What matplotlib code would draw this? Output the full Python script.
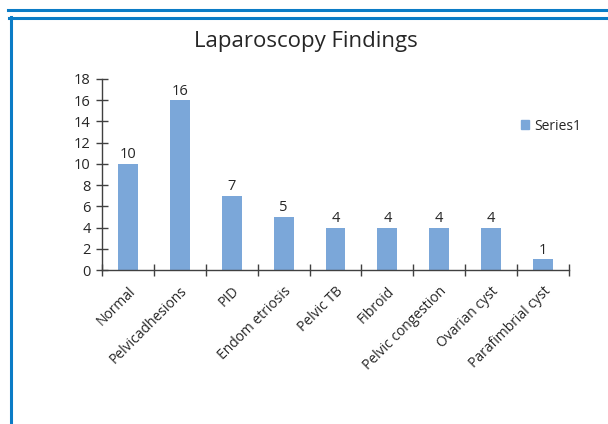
import matplotlib
matplotlib.use("Agg")
import matplotlib.pyplot as plt
from matplotlib.lines import Line2D
from matplotlib.patches import Patch
import numpy as np

categories = ["Normal", "Pelvicadhesions", "PID", "Endom etriosis", "Pelvic TB",
              "Fibroid", "Pelvic congestion", "Ovarian cyst", "Parafimbrial cyst"]
values = [10, 16, 7, 5, 4, 4, 4, 4, 1]
yticks = [0, 2, 4, 6, 8, 10, 12, 14, 16, 18]
series_name = "Series1"
title = "Laparoscopy Findings"

bar_color = "#7BA7D9"
frame_color = "#0B7CC6"
axis_color = "#404040"
text_color = "#262626"

plt.rcParams['font.family'] = ['Open Sans', 'DejaVu Sans']

fig = plt.figure(figsize=(6.08, 4.24), dpi=100)
W, H = 608, 424

# decorative frame lines
fig.add_artist(Line2D([8 / W, 1], [1 - 10 / H, 1 - 10 / H], transform=fig.transFigure,
                      color=frame_color, lw=2.2))
fig.add_artist(Line2D([9 / W, 1], [1 - 18 / H, 1 - 18 / H], transform=fig.transFigure,
                      color=frame_color, lw=2.2))
fig.add_artist(Line2D([11 / W, 11 / W], [1 - 17 / H, 0], transform=fig.transFigure,
                      color=frame_color, lw=2.2))

ax = fig.add_axes([102 / W, 1 - 270 / H, (569 - 102) / W, (270 - 79) / H])
n = len(categories)
x = np.arange(n) + 0.5
bars = ax.bar(x, values, width=0.385, color=bar_color, label=series_name, zorder=2)
ax.set_xlim(0, n)
ax.set_ylim(0, 18)
ax.set_yticks(yticks)
ax.set_yticklabels([str(t) for t in yticks], fontsize=10.5, color=text_color)

ax.set_xticks(np.arange(n + 1))
ax.set_xticklabels([])
ax.set_xticks(x, minor=True)
ax.set_xticklabels(categories, minor=True, rotation=45, ha='right',
                   rotation_mode='anchor', fontsize=10, color=text_color)
ax.tick_params(axis='x', which='minor', length=0, pad=10)
ax.tick_params(axis='x', which='major', direction='inout', length=8, color=axis_color, width=1)
ax.tick_params(axis='y', direction='inout', length=8, color=axis_color, width=1, pad=4)

for s in ['top', 'right']:
    ax.spines[s].set_visible(False)
for s in ['left', 'bottom']:
    ax.spines[s].set_color(axis_color)
    ax.spines[s].set_linewidth(1)

for xi, v in zip(x, values):
    ax.text(xi, v + 0.15, str(v), ha='center', va='bottom', fontsize=10.5, color=text_color)

fig.text(306 / W, 1 - 41 / H, title, ha='center', va='center', fontsize=16, color=text_color)

fig.legend(handles=[Patch(color=bar_color, label=series_name)], loc='center left',
           bbox_to_anchor=(508 / W, 1 - 126 / H), frameon=False, fontsize=10,
           handlelength=0.6, handleheight=0.6, handletextpad=0.4, labelcolor=text_color)

fig.savefig("out.png", dpi=100)
